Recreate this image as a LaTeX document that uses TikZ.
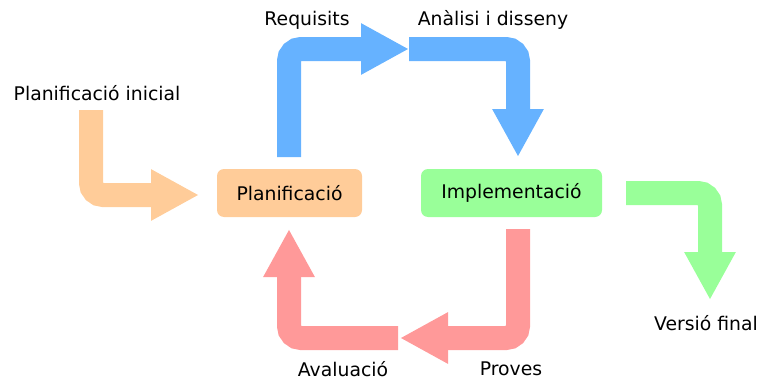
\documentclass[tikz,border=0pt]{standalone}
\usepackage{fontspec}
\setmainfont{DejaVu Sans}
\usetikzlibrary{arrows.meta}

\definecolor{cblue}{HTML}{66B2FF}
\definecolor{corange}{HTML}{FFCC99}
\definecolor{cgreen}{HTML}{99FF99}
\definecolor{cred}{HTML}{FF9999}

\newcommand{\lblfont}{\fontsize{18.8pt}{22pt}\selectfont}

\tikzset{
  flow/.style={line width=24pt, rounded corners=12pt,
    -{Triangle[length=48pt,width=48pt]}},
  phase/.style={rounded corners=7pt, minimum height=48pt, inner sep=0pt, font=\lblfont},
  lbl/.style={font=\lblfont, inner sep=0pt},
}

\begin{document}
\begin{tikzpicture}[x=1pt,y=-1pt]
  \useasboundingbox (0,0) rectangle (761,380);

  % phase boxes
  \node[phase, fill=corange, minimum width=145pt] (plan) at (289.5,193) {Planificació};
  \node[phase, fill=cgreen, minimum width=181pt] (impl) at (511.5,193) {Implementació};

  % labels
  \node[lbl] (lreq)  at (307,20)  {Requisits};
  \node[lbl] (lanal) at (493,20)  {Anàlisi i disseny};
  \node[lbl] (lini)  at (97,93)   {Planificació inicial};
  \node[lbl] (lfin)  at (706,323) {Versió final};
  \node[lbl] (lava)  at (343,369) {Avaluació};
  \node[lbl] (lpro)  at (511,369) {Proves};

  % arrow anchors
  \coordinate (reqS) at (289,157);
  \coordinate (mid)  at (409,49);
  \coordinate (anaE) at (518,157);
  \coordinate (iniS) at (91,110);
  \coordinate (iniE) at (199,195);
  \coordinate (finS) at (626,193);
  \coordinate (finE) at (710,300);
  \coordinate (proS) at (518,229);
  \coordinate (proE) at (400,338);
  \coordinate (avaS) at (398,338);
  \coordinate (avaE) at (289,229);

  % flows
  \draw[flow, cblue]   (reqS) |- (mid);
  \draw[flow, cblue]   (mid) -| (anaE);
  \draw[flow, corange] (iniS) |- (iniE);
  \draw[flow, cgreen]  (finS) -| (finE);
  \draw[flow, cred]    (proS) |- (proE);
  \draw[flow, cred]    (avaS) -| (avaE);
\end{tikzpicture}
\end{document}
